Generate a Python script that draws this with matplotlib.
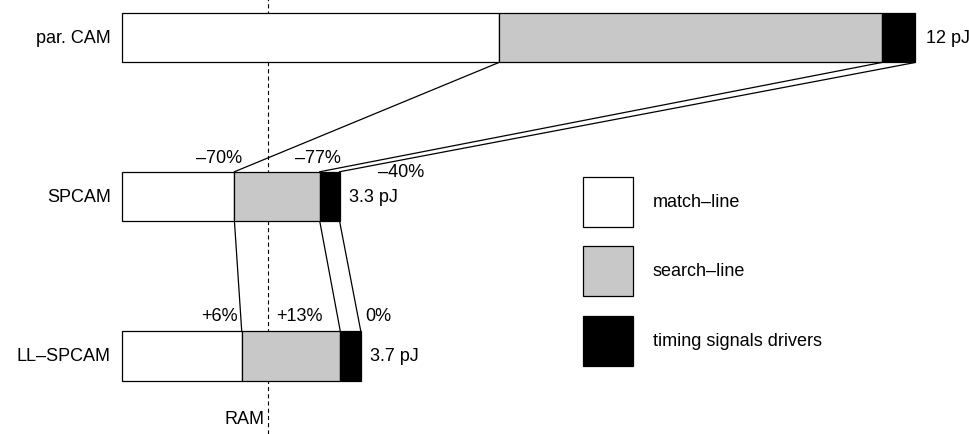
#!/usr/bin/env python3

"""
Energy breakdown per search for the CAM variants, with connectors
showing how each component changes from one design to the next.
"""

import matplotlib
matplotlib.use("Agg")
import matplotlib.pyplot as plt
from matplotlib.patches import Rectangle

plt.rcParams['font.family'] = ['Liberation Sans', 'DejaVu Sans']
plt.rcParams['lines.scale_dashes'] = False

# energy per search (pJ), split into components
designs = ['par. CAM', 'SPCAM', 'LL\u2013SPCAM']
components = ['match\u2013line', 'search\u2013line', 'timing signals drivers']
match_line = [5.70, 1.70, 1.81]
search_line = [5.79, 1.29, 1.49]
timing = [0.505, 0.30, 0.31]
totals = ['12 pJ', '3.3 pJ', '3.7 pJ']

# relative change of each component vs. the design above it
change_sp = ['\u201370%', '\u201377%', '\u201340%']
change_ll = ['+6%', '+13%', '0%']

ram_energy = 2.20

colors = ['white', '#c8c8c8', 'black']

# layout (pixels)
W, H = 970, 435
X0 = 122           # left edge of bars
PX_PER_PJ = 66.14
row_y = [38.7, 197.5, 356.8]
bar_h = 49.5
total_gap = [10.5, 9, 9]


def main():
    fig = plt.figure(figsize=(W / 100, H / 100), dpi=100)
    ax = fig.add_axes([0, 0, 1, 1])
    ax.set_xlim(-X0 / PX_PER_PJ, (W - X0) / PX_PER_PJ)
    ax.set_ylim(H, 0)
    ax.axis('off')

    series = [match_line, search_line, timing]
    n = len(designs)

    # stacked bars
    lefts = [0.0] * n
    bounds = [[] for _ in range(n)]
    for vals, col in zip(series, colors):
        ax.barh(row_y, vals, left=lefts, height=bar_h, color=col,
                edgecolor='black', linewidth=0.9, zorder=3)
        lefts = [l + v for l, v in zip(lefts, vals)]
        for i in range(n):
            bounds[i].append(lefts[i])

    # RAM reference line
    ax.axvline(ram_energy, color='black', linewidth=0.8,
               linestyle=(0, (3.0, 2.2)), zorder=1)
    ax.annotate('RAM', (ram_energy, 420), xytext=(-3, 0),
                textcoords='offset pixels', ha='right', va='center',
                fontsize=13)

    # connectors between consecutive designs
    for i in range(n - 1):
        y_top = row_y[i] + bar_h / 2
        y_bot = row_y[i + 1] - bar_h / 2
        for a, b in zip(bounds[i], bounds[i + 1]):
            ax.plot([a, b], [y_top, y_bot], color='black', linewidth=0.9,
                    zorder=2)

    # change labels, offsets in pixels from the segment ends
    sp_off = [(-15.5, -14.4), (-2.3, -14.4), (62, 0)]
    ll_off = [(-22.2, -15.6), (-41.2, -15.6), (18, -15.6)]
    for row, labels, offs in [(1, change_sp, sp_off), (2, change_ll, ll_off)]:
        y_top = row_y[row] - bar_h / 2
        for b, txt, (dx, dy) in zip(bounds[row], labels, offs):
            ax.annotate(txt, (b, y_top), xytext=(dx, -dy),
                        textcoords='offset pixels', ha='center',
                        va='center', fontsize=13)

    # design names and totals
    for i in range(n):
        ax.annotate(designs[i], (0, row_y[i]), xytext=(-11, 0),
                    textcoords='offset pixels', ha='right', va='center',
                    fontsize=13)
        ax.annotate(totals[i], (bounds[i][-1], row_y[i]),
                    xytext=(total_gap[i], 0), textcoords='offset pixels',
                    ha='left', va='center', fontsize=13)

    # legend
    lax = fig.add_axes([0, 0, 1, 1])
    lax.set_xlim(0, W)
    lax.set_ylim(H, 0)
    lax.axis('off')
    for k, (name, col) in enumerate(zip(components, colors)):
        top = 177.5 + k * 69.5
        lax.add_patch(Rectangle((583, top), 50, 50, facecolor=col,
                                edgecolor='black', linewidth=0.9))
        lax.text(653, top + 25, name, ha='left', va='center', fontsize=13)

    fig.savefig('out.png', dpi=100)
    plt.close(fig)


if __name__ == "__main__":
    main()
